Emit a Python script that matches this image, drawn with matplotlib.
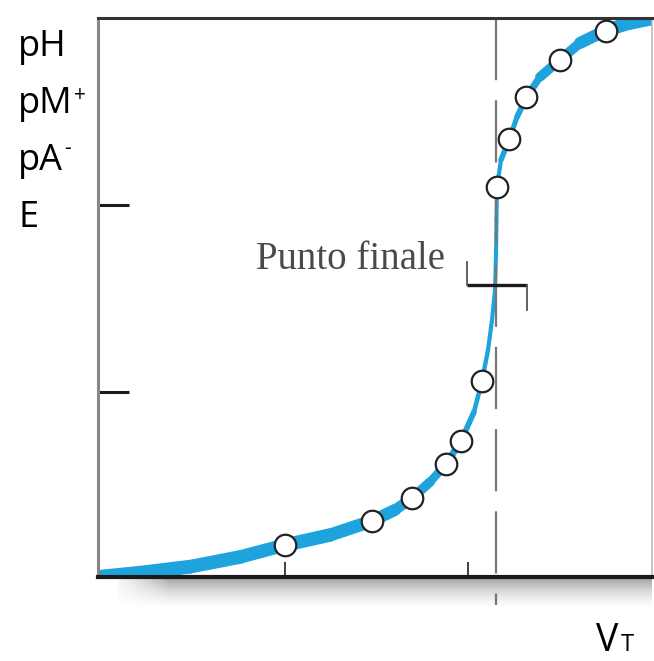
import matplotlib
matplotlib.use("Agg")
import matplotlib.pyplot as plt
from matplotlib.collections import LineCollection
import numpy as np

# titration curve (axis units 0..10)
curve_x = [0.0, 0.758, 1.661, 2.563, 3.375, 4.188, 4.946, 5.36, 5.668, 5.993, 6.282,
           6.552, 6.787, 6.931, 7.04, 7.112, 7.166, 7.184, 7.193, 7.202, 7.274, 7.428,
           7.563, 7.735, 7.978, 8.339, 8.7, 9.17, 9.603, 10.04]
curve_y = [0.0, 0.075, 0.184, 0.358, 0.572, 0.751, 1.002, 1.2, 1.413, 1.699, 2.021,
           2.433, 2.952, 3.506, 4.061, 4.597, 5.134, 5.76, 6.386, 6.977, 7.46, 7.84,
           8.229, 8.587, 8.945, 9.255, 9.553, 9.78, 9.911, 10.0]

# measured points (open circles)
pts_x = [3.375, 4.946, 5.668, 6.282, 6.552, 6.931, 7.202, 7.419, 7.726, 8.339, 9.17]
pts_y = [0.572, 1.002, 1.413, 2.021, 2.433, 3.506, 6.968, 7.835, 8.587, 9.249, 9.776]

end_x = 7.184          # equivalence volume (dashed line)
end_y = 5.224          # "Punto finale" marker level
end_span = (6.66, 7.744)
xticks = [3.375, 6.68]
yticks = [3.31, 6.655]
y_labels = ["pH", "pM", "pA", "E"]
y_label_sup = ["", "+", "-", ""]

W, H = 654, 661
fig = plt.figure(figsize=(W / 100, H / 100), dpi=100)
ax = fig.add_axes([98 / W, 1 - 577 / H, 554 / W, 559 / H])
ax.set_zorder(3)
ax.set_xlim(0, 10)
ax.set_ylim(0, 10)

# curve: thick when flat, thinner when steep
px = np.array(curve_x) * 55.4
py = np.array(curve_y) * 55.9
segs = np.stack([np.column_stack([curve_x[:-1], curve_y[:-1]]),
                 np.column_stack([curve_x[1:], curve_y[1:]])], axis=1)
ang = np.arctan2(np.diff(py), np.diff(px))
widths = (4.0 + 10.0 * np.cos(ang) ** 2) * 0.72
lc = LineCollection(segs, linewidths=widths, colors="#1ea3dc", capstyle="round",
                    joinstyle="round", zorder=1)
ax.add_collection(lc)

ax.plot(pts_x, pts_y, "o", ms=15.5, mfc="white", mec="#222222", mew=1.6, zorder=4,
        clip_on=False)

# dashed line at the end point
ax.plot([end_x, end_x], [10, -0.5], color="#777777", lw=1.6, dashes=(28, 9),
        zorder=2, clip_on=False)

# end point marker
ax.plot(end_span, [end_y, end_y], color="#1a1a1a", lw=2.4, zorder=5, solid_capstyle="butt")
ax.plot([end_span[0], end_span[0]], [end_y, end_y + 0.41], color="#555555", lw=1.3, zorder=5)
ax.plot([end_span[1], end_span[1]], [end_y, end_y - 0.45], color="#555555", lw=1.3, zorder=5)
ax.text(2.85, end_y + 0.29, "Punto finale", family="Liberation Serif", fontsize=28,
        color="#4a4a4a", va="baseline", ha="left")

ax.set_xticks(xticks)
ax.set_yticks(yticks)
ax.tick_params(axis="y", direction="in", length=22, width=2.2, color="#1a1a1a",
               labelleft=False)
ax.tick_params(axis="x", direction="in", length=11, width=1.3, color="#333333",
               labelbottom=False)

ax.spines["left"].set_color("#888888")
ax.spines["left"].set_linewidth(2.2)
ax.spines["top"].set_color("#333333")
ax.spines["top"].set_linewidth(2.2)
ax.spines["bottom"].set_color("#1a1a1a")
ax.spines["bottom"].set_linewidth(3.0)
ax.spines["right"].set_color("#bbbbbb")
ax.spines["right"].set_linewidth(1.2)

# soft shadow under the x axis
sh = fig.add_axes([118 / W, 1 - 607 / H, 534 / W, 28 / H])
sh.set_zorder(1)
grad = np.linspace(0.45, 0.0, 50)[:, None] * np.ones((1, 200))
grad[:, :20] *= np.linspace(0.2, 1, 20)[None, :]
sh.imshow(grad, cmap="Greys", vmin=0, vmax=1, aspect="auto")
sh.axis("off")

# left side labels
renderer = fig.canvas.get_renderer()
for i, (lab, sup) in enumerate(zip(y_labels, y_label_sup)):
    yb = 56 + 57 * i
    t = fig.text(18 / W, 1 - yb / H, lab, fontsize=26, family="Open Sans", va="baseline",
                 ha="left", color="black")
    if sup:
        x_end = t.get_window_extent(renderer=renderer).x1 + 1
        lift = 12 if sup == "+" else 16
        fig.text(x_end / W, 1 - (yb - lift) / H, sup, fontsize=15, family="Open Sans",
                 va="baseline", ha="left", color="black")

fig.text(596 / W, 1 - 651 / H, "V", fontsize=27, family="Open Sans", va="baseline")
fig.text(621 / W, 1 - 651 / H, "T", fontsize=17, family="Open Sans", va="baseline")

fig.savefig("out.png", dpi=100)
